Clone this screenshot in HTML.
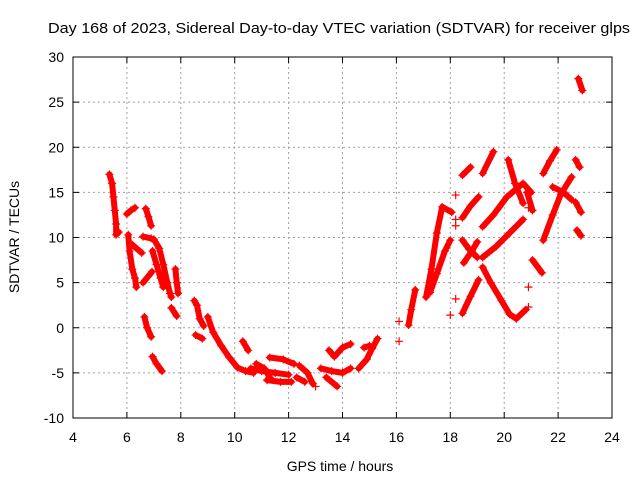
<!DOCTYPE html>
<html><head><meta charset="utf-8"><style>
html,body{margin:0;padding:0;background:#fff;}
svg{display:block;font-family:"Liberation Sans",sans-serif;}
</style></head><body>
<svg id="chart" width="640" height="480">
<rect width="640" height="480" fill="#fff"/>
<text x="339" y="33" text-anchor="middle" font-size="15" textLength="582" lengthAdjust="spacingAndGlyphs">Day 168 of 2023, Sidereal Day-to-day VTEC variation (SDTVAR) for receiver glps</text>
<text x="340" y="471" text-anchor="middle" font-size="14">GPS time / hours</text>
<text transform="translate(19,237) rotate(-90)" text-anchor="middle" font-size="14">SDTVAR / TECUs</text>
<g id="grid"></g>
<g id="ticks"></g>
<g id="marks"></g>
<rect x="73" y="57" width="539" height="361" fill="none" stroke="#000" stroke-width="1"/>
</svg>
<script>
const xTicks=[4,6,8,10,12,14,16,18,20,22,24];
const yTicks=[-10,-5,0,5,10,15,20,25,30];
const tracks=[
[[5.35,17],[5.45,16],[5.5,14.5],[5.55,13],[5.6,11.5],[5.6,10.3],[5.7,10.6]],
[[6.0,12.6],[6.15,13],[6.3,13.3]],
[[6.7,13.2],[6.8,12.3],[6.9,11.3]],
[[6.05,10.3],[6.1,8.5],[6.2,6.5],[6.3,5.5],[6.35,4.5]],
[[6.2,9.2],[6.55,8.3]],
[[6.6,5.0],[6.93,6.2]],
[[6.6,10.1],[6.9,9.9]],
[[7.0,9.8],[7.2,8.8],[7.35,7],[7.5,5],[7.6,3.8],[7.65,3.4]],
[[6.95,8.5],[7.1,7],[7.25,5.5],[7.35,4.5]],
[[7.8,6.5],[7.85,5],[7.9,3.8]],
[[6.65,1.2],[6.75,0],[6.9,-1]],
[[6.95,-3.2],[7.1,-4],[7.3,-4.8]],
[[7.65,2.2],[7.85,1.3]],
[[8.5,3],[8.6,2.5],[8.7,1],[8.85,0.2]],
[[8.55,-0.8],[8.8,-1.2]],
[[9.0,1.2],[9.2,-0.5],[9.5,-2],[9.8,-3.3],[10.1,-4.4],[10.4,-4.8],[10.7,-5]],
[[10.3,-1.5],[10.5,-2.5]],
[[10.6,-4.5],[11.0,-4.8],[11.5,-5],[12.0,-5.2]],
[[11.3,-3.3],[11.8,-3.5],[12.2,-4]],
[[11.2,-5.8],[11.7,-6],[12.1,-6]],
[[10.8,-4],[11.1,-4.5],[11.3,-5.5]],
[[12.4,-4.2],[12.7,-5],[12.9,-6.2]],
[[12.3,-5.5],[12.6,-6]],
[[13.2,-4.5],[13.6,-4.8],[14.0,-5],[14.3,-4.5]],
[[13.4,-5.5],[13.8,-6.5]],
[[13.0,-6.5]],
[[13.5,-2.5],[13.7,-3.2],[14.0,-2.2],[14.3,-1.8]],
[[14.6,-4.5],[14.9,-3.5],[15.1,-2.3],[15.3,-1.2]],
[[14.8,-2.2],[15.0,-2]],
[[16.1,0.7]],[[16.1,-1.5]],
[[16.45,0.3],[16.55,2],[16.7,4.2]],
[[17.1,3.4],[17.3,6.5],[17.5,10.5],[17.7,13.4],[18.05,12.8]],
[[17.25,3.9],[17.5,6],[17.8,8.5],[18.0,9.7]],
[[18.45,12.2],[18.75,13.5],[19.05,14.5]],
[[18.45,16.9],[18.75,17.8]],
[[19.2,17.1],[19.6,19.5]],
[[20.15,18.6],[20.4,16],[20.7,13.8]],
[[19.2,11.2],[19.6,12.5],[20.1,14.5],[20.7,16],[21.0,15]],
[[19.2,7.8],[19.7,9],[20.2,10.5],[20.7,12]],
[[18.45,9.7],[18.7,8.7],[19.0,7.8]],
[[18.5,7.2],[18.8,8.5],[19.0,9.5]],
[[18.45,1.6],[18.75,3.5],[19.05,5.3]],
[[19.2,6.7],[19.5,5],[19.9,3],[20.2,1.5],[20.45,1],[20.8,2]],
[[21.45,17.1],[21.7,18.5],[21.95,19.7]],
[[21.45,9.7],[21.8,12.5],[22.1,14.8],[22.5,16.7]],
[[21.8,15.6],[22.2,15],[22.5,14.2]],
[[22.65,18.6],[22.8,17.8]],
[[22.65,13.9],[22.85,12.8]],
[[22.7,10.8],[22.85,10.2]],
[[21.05,7.5],[21.4,6.1]],
[[20.85,15],[21.05,13]],
[[22.75,27.6],[22.9,26.3]],
[[20.9,4.5]],[[20.9,2.3]],[[18.2,14.7]],[[18.2,12]],[[18.2,11.3]],[[18.2,3.2]],[[18.0,1.4]],[[20.9,13.3]]
];
const NS='http://www.w3.org/2000/svg';
const X0=73,X1=612,Y0=418,Y1=57;
function sx(h){return X0+(h-4)/20*(X1-X0);}
function sy(v){return Y0-(v+10)/40*(Y0-Y1);}
function mk(tag,attrs,parent){const e=document.createElementNS(NS,tag);for(const k in attrs)e.setAttribute(k,attrs[k]);parent.appendChild(e);return e;}
const grid=document.getElementById('grid'),ticks=document.getElementById('ticks'),marks=document.getElementById('marks');
xTicks.forEach(t=>{
  const x=sx(t);
  if(t>4&&t<24){const g=mk('line',{x1:x,x2:x,y1:Y1,y2:Y0,stroke:'#a0a0a0','stroke-dasharray':'2,3'},grid);
  
  }
  const a=mk('line',{x1:x,x2:x,y1:Y0,y2:Y0-6,stroke:'#000'},ticks);
  
  
  const b=mk('line',{x1:x,x2:x,y1:Y1,y2:Y1+6,stroke:'#000'},ticks);
  
  
  const l=mk('text',{x:x,y:Y0+24,'text-anchor':'middle','font-size':'14'},ticks);
  l.textContent=t;
  
  
});
yTicks.forEach(t=>{
  const y=sy(t);
  if(t>-10&&t<30){const g=mk('line',{x1:X0,x2:X1,y1:y,y2:y,stroke:'#a0a0a0','stroke-dasharray':'2,3'},grid);
  
  }
  const a=mk('line',{x1:X0,x2:X0+6,y1:y,y2:y,stroke:'#000'},ticks);
  
  
  const b=mk('line',{x1:X1,x2:X1-6,y1:y,y2:y,stroke:'#000'},ticks);
  
  
  const l=mk('text',{x:X0-9,y:y+5,'text-anchor':'end','font-size':'14'},ticks);
  l.textContent=t;
  
  
});
tracks.forEach(tr=>{
  if(tr.length>1){
    const p=mk('polyline',{points:tr.map(d=>sx(d[0])+','+sy(d[1])).join(' '),fill:'none',stroke:'#f00','stroke-width':'6','stroke-linejoin':'round','stroke-linecap':'round'},marks);
    
    
  }
  tr.forEach(d=>{
    const x=sx(d[0]),y=sy(d[1]);
    const m=mk('path',{d:`M${x-4},${y}H${x+4}M${x},${y-4}V${y+4}`,stroke:'#f00','stroke-width':'1.2'},marks);
    
    
  });
});
</script>
</body></html>
